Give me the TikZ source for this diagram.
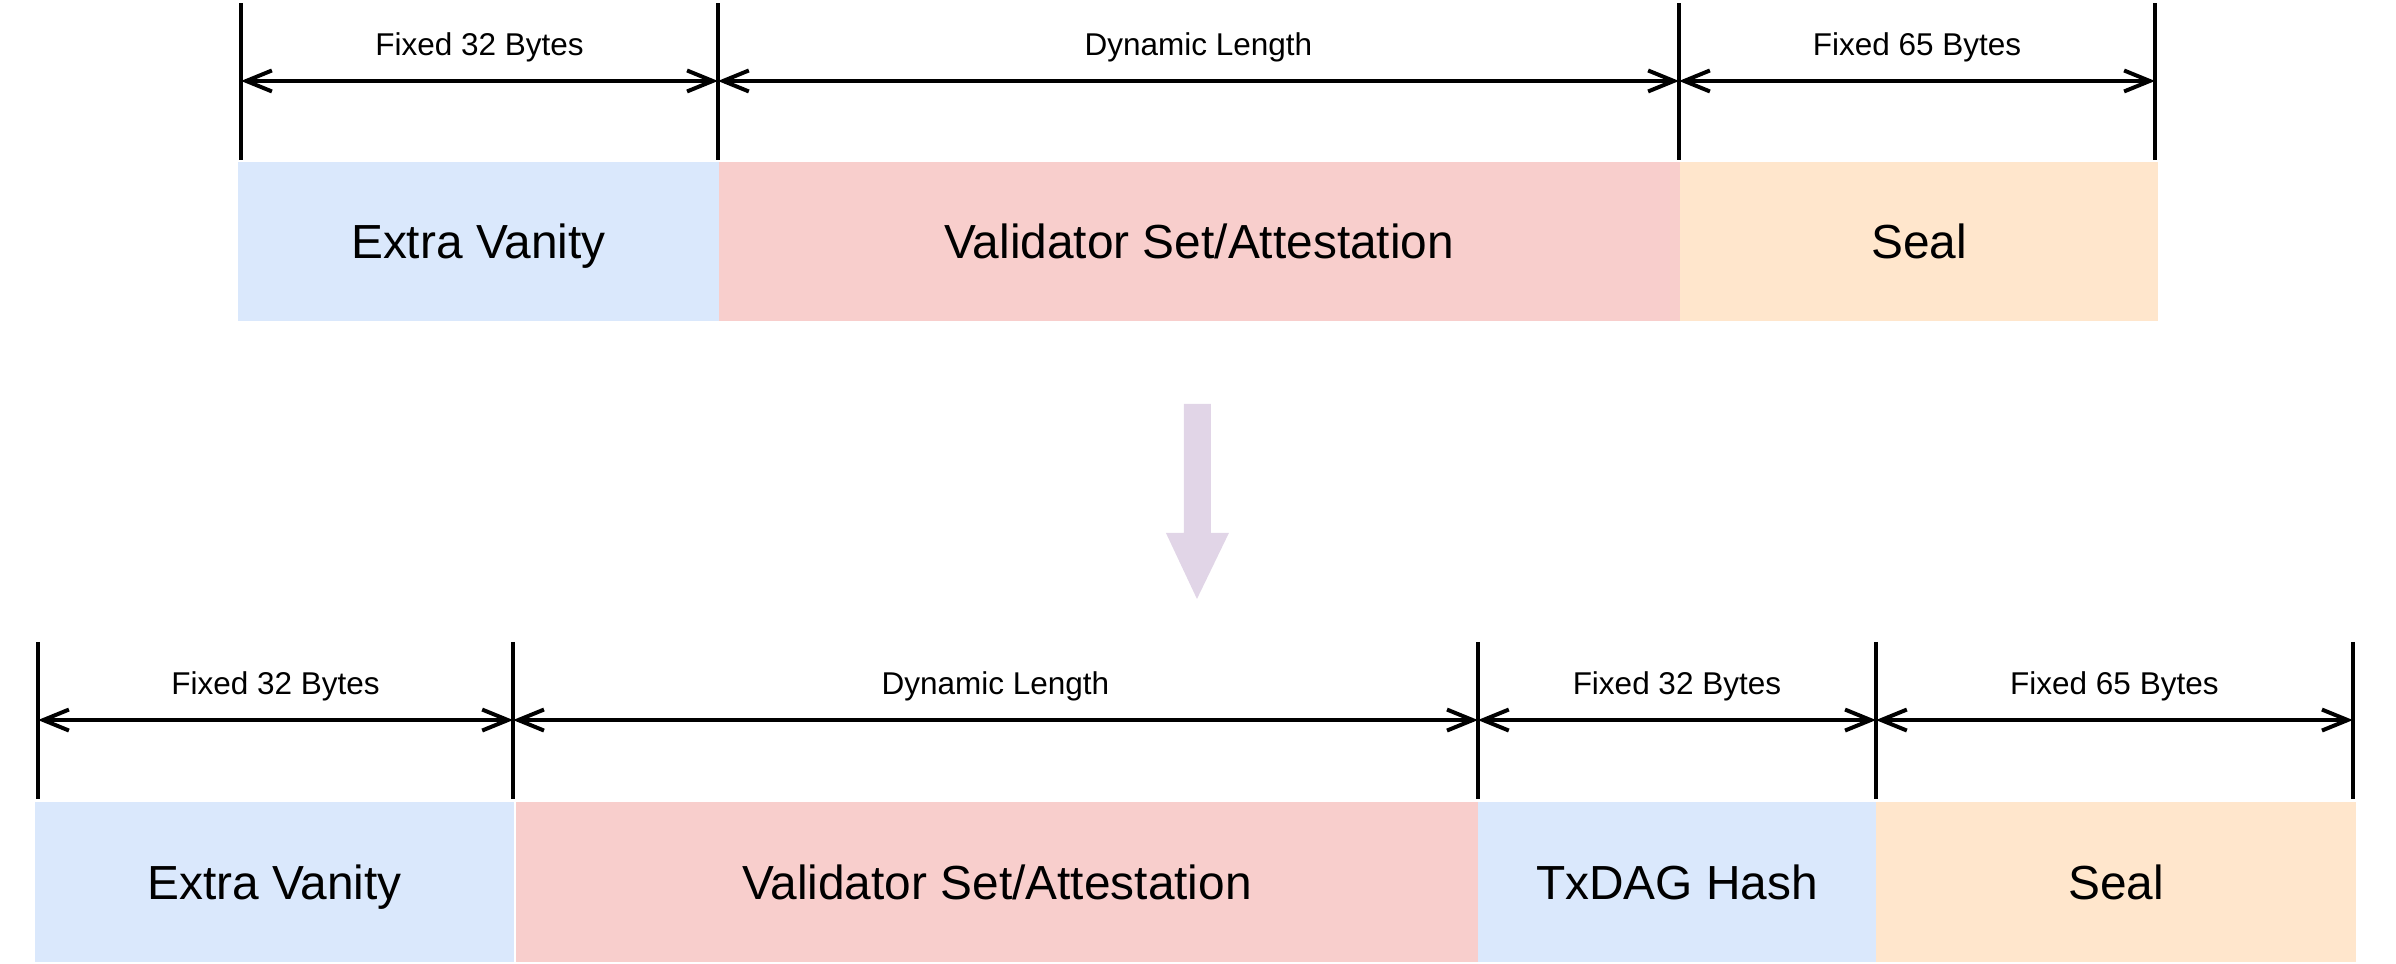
\documentclass[tikz,border=0pt]{standalone}
\usepackage{fontspec}
\setmainfont{Liberation Sans}
\usetikzlibrary{arrows.meta}
\definecolor{vanityblue}{HTML}{DAE8FC}
\definecolor{validatorred}{HTML}{F8CECC}
\definecolor{sealorange}{HTML}{FFE6CC}
\definecolor{arrowpurple}{HTML}{E1D5E7}
\tikzset{
	field/.style={inner sep=0pt, minimum height=68.5pt, text height=19pt, text depth=4.3pt, font=\fontsize{20.5}{24}\selectfont},
	tickline/.style={line width=1.7pt},
	span/.style={line width=1.7pt, {Straight Barb[length=11pt,width=9pt]}-{Straight Barb[length=11pt,width=9pt]}},
	spanlabel/.style={font=\fontsize{13.5}{16}\selectfont, yshift=14.5pt}
}

\begin{document}
\begin{tikzpicture}[x=1pt, y=-1pt]
			%%%%% START %%%%%
			\useasboundingbox (0, 0) rectangle (1026.9, 413.1);
			
			% old extra data
			\node[field, fill=vanityblue, minimum width=206pt] (vanity1) at (205, 103.5) {Extra Vanity};
			\node[field, fill=validatorred, minimum width=412pt] (validator1) at (514, 103.5) {Validator Set/Attestation};
			\node[field, fill=sealorange, minimum width=205pt] (seal1) at (822.5, 103.5) {Seal};
			
			\draw[tickline] (103.3, 1.3) -- (103.3, 68.6);
			\draw[tickline] (307.7, 1.3) -- (307.7, 68.6);
			\draw[tickline] (719.6, 1.3) -- (719.6, 68.6);
			\draw[tickline] (923.6, 1.3) -- (923.6, 68.6);
			
			\coordinate (p0) at (103.3, 34.7);
			\coordinate (p1) at (307.7, 34.7);
			\coordinate (p2) at (719.6, 34.7);
			\coordinate (p3) at (923.6, 34.7);
			\draw[span] (p0) -- node[spanlabel] {Fixed 32 Bytes} (p1);
			\draw[span] (p1) -- node[spanlabel] {Dynamic Length} (p2);
			\draw[span] (p2) -- node[spanlabel] {Fixed 65 Bytes} (p3);
			
			% big arrow
			\fill[arrowpurple] (507.4, 173.1) -- (519, 173.1) -- (519, 228.4) -- (526.7, 228.4)
				-- (513, 256.7) -- (499.7, 228.4) -- (507.4, 228.4) -- cycle;
			
			% new extra data
			\node[field, fill=vanityblue, minimum width=205.3pt] (vanity2) at (117.7, 378) {Extra Vanity};
			\node[field, fill=validatorred, minimum width=412.3pt] (validator2) at (427.3, 378) {Validator Set/Attestation};
			\node[field, fill=vanityblue, minimum width=170.6pt] (txdag2) at (718.7, 378) {TxDAG Hash};
			\node[field, fill=sealorange, minimum width=205.7pt] (seal2) at (906.9, 378) {Seal};
			
			\draw[tickline] (16.3, 275.1) -- (16.3, 342.4);
			\draw[tickline] (219.9, 275.1) -- (219.9, 342.4);
			\draw[tickline] (633.4, 275.1) -- (633.4, 342.4);
			\draw[tickline] (804, 275.1) -- (804, 342.4);
			\draw[tickline] (1008.4, 275.1) -- (1008.4, 342.4);
			
			\coordinate (q0) at (16.3, 308.6);
			\coordinate (q1) at (219.9, 308.6);
			\coordinate (q2) at (633.4, 308.6);
			\coordinate (q3) at (804, 308.6);
			\coordinate (q4) at (1008.4, 308.6);
			\draw[span] (q0) -- node[spanlabel] {Fixed 32 Bytes} (q1);
			\draw[span] (q1) -- node[spanlabel] {Dynamic Length} (q2);
			\draw[span] (q2) -- node[spanlabel] {Fixed 32 Bytes} (q3);
			\draw[span] (q3) -- node[spanlabel] {Fixed 65 Bytes} (q4);
			
			%%%%% END %%%%%
\end{tikzpicture}
\end{document}
